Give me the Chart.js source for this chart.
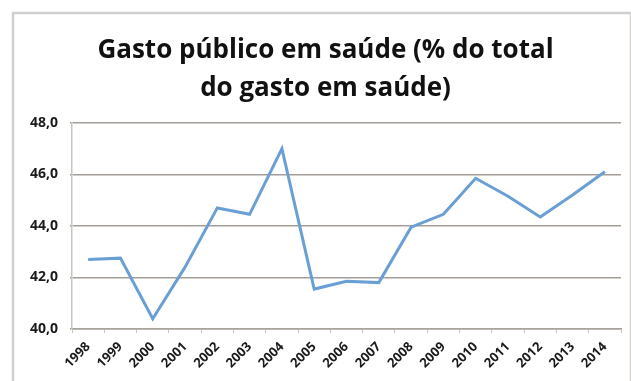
<!DOCTYPE html>
<html>
<head>
<meta charset="utf-8">
<script src="https://cdn.jsdelivr.net/npm/chart.js@4"></script>
<style>
  html, body { margin: 0; padding: 0; background: #ffffff; }
  #wrap { width: 631px; height: 381px; }
</style>
</head>
<body>
<div id="wrap"><canvas id="gasto-chart" width="631" height="381"></canvas></div>
<script>
// anos e percentagem do gasto público no gasto total em saúde
var anos = ["1998", "1999", "2000", "2001", "2002", "2003", "2004", "2005", "2006",
            "2007", "2008", "2009", "2010", "2011", "2012", "2013", "2014"];
var gastoPublico = [42.7, 42.75, 40.4, 42.4, 44.7, 44.45, 47.0, 41.55, 41.85,
                    41.8, 43.95, 44.45, 45.85, 45.15, 44.35, 45.2, 46.1];
var yTicks = [40, 42, 44, 46, 48];

// moldura cinzenta à volta do gráfico
var moldura = {
    id: 'moldura',
    beforeDraw: function(chart) {
        var c = chart.ctx;
        c.save();
        c.fillStyle = '#ffffff';
        c.fillRect(0, 0, chart.width, chart.height);
        c.strokeStyle = '#d2d0ce';
        c.lineWidth = 2.5;
        c.strokeRect(13, 13, chart.width - 13, chart.height);
        c.restore();
    }
};

var ctx = document.getElementById('gasto-chart').getContext('2d');
var chart = new Chart(ctx, {
    type: 'line',
    data: {
        labels: anos,
        datasets: [{
            data: gastoPublico,
            borderColor: '#6a9fd6',
            borderWidth: 3,
            pointRadius: 0,
            tension: 0,
            fill: false
        }]
    },
    plugins: [moldura],
    options: {
        responsive: false,
        animation: false,
        layout: {
            padding: { left: 30, right: 10, top: 0, bottom: 0 }
        },
        plugins: {
            legend: { display: false },
            tooltip: { enabled: false },
            title: {
                display: true,
                text: ['Gasto público em saúde (% do total', 'do gasto em saúde)'],
                color: '#111111',
                font: { family: 'Open Sans', size: 26, weight: 'bold', lineHeight: 1.44 },
                padding: { top: 32, bottom: 16 }
            }
        },
        scales: {
            x: {
                offset: true,
                grid: {
                    offset: true,
                    drawOnChartArea: false,
                    tickLength: 4,
                    color: '#c8c4c0'
                },
                border: { color: '#a8a29c', width: 1.5 },
                ticks: {
                    minRotation: 45,
                    maxRotation: 45,
                    color: '#1a1a1a',
                    padding: 6,
                    font: { family: 'Open Sans', size: 13, weight: 'bold' }
                },
                afterFit: function(scale) { scale.height = 52; }
            },
            y: {
                min: 40,
                max: 48,
                afterBuildTicks: function(scale) {
                    scale.ticks = yTicks.map(function(v) { return { value: v }; });
                },
                grid: {
                    color: '#a39d97',
                    lineWidth: 1.5,
                    tickLength: 2
                },
                border: { color: '#c8c4c0', width: 1.5 },
                ticks: {
                    color: '#1a1a1a',
                    padding: 12,
                    font: { family: 'Open Sans', size: 14, weight: 'bold' },
                    callback: function(v) { return v.toFixed(1).replace('.', ','); }
                },
                // eixo estreito; os rótulos ficam encostados à margem da moldura
                afterFit: function(scale) { scale.width = 42; }
            }
        }
    }
});
</script>
</body>
</html>
